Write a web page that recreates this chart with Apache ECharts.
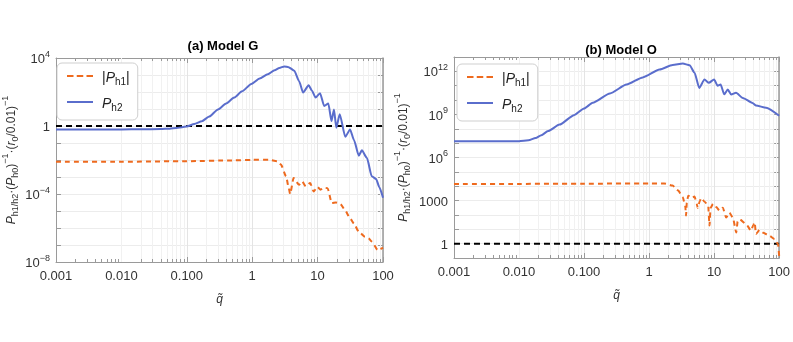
<!DOCTYPE html>
<html>
<head>
<meta charset="utf-8">
<script src="https://cdn.jsdelivr.net/npm/echarts@6/dist/echarts.min.js"></script>
<style>
html, body { margin: 0; padding: 0; background: #fff; }
#chart { width: 793px; height: 342px; }
</style>
</head>
<body>
<div id="chart"></div>
<script>
// Model G, P_h2 (blue)
var gH2 = [[0.001,0.63],[0.003,0.63],[0.01,0.63],[0.02,0.64],[0.04,0.66],[0.055,0.7],[0.07,0.76],[0.085,0.85],
  [0.1,0.95],[0.13,1.3],[0.17,1.9],[0.22,3.6],[0.3,9.5],[0.4,21],[0.53,47],[0.7,110],[0.97,300],[1.3,620],
  [1.73,1100],[2.2,1900],[2.6,2600],[3.1,3200],[3.6,2900],[4.4,1800],[5.2,450],
  [6.0,93],[7.3,250],[8.2,120],[9.3,47],[10.9,85],[12.6,15],[14.6,21],[16.3,1.95],[17.8,9.5],[19.3,0.8],
  [21.8,4.9],[26.5,0.23],[31.4,0.63],[36,0.15],[42.6,0.018],[47.5,0.037],[56.9,0.013],[67.3,0.0011],
  [78.5,0.00076],[88,0.00025],[100,0.00006]];
// Model G, |P_h1| (orange)
var gH1 = [[0.001,0.0078],[0.01,0.0079],[0.1,0.0085],[0.5,0.0095],[1,0.0102],[1.8,0.0102],[2.4,0.0085],
  [2.75,0.0054],[3.3,0.0011],[3.6,0.00025],[3.8,0.0001],[4.3,0.00087],[5.2,0.00035],[5.8,0.00055],
  [6.6,0.00028],[7.7,0.00044],[8.7,0.00014],[9.9,0.00026],[11.1,0.00018],[12.5,0.00024],[14.2,0.00022],
  [16.5,0.000029],[19,0.000032],[22.3,0.000026],[26,0.000012],[31.4,0.0000037],[36,0.0000018],
  [42.6,0.0000006],[52.8,0.00000031],[60,0.00000025],[67.3,0.00000016],[83,0.00000005],[100,0.00000007]];
// Model O, P_h2 (blue)
var oH2 = [[0.001,1.35e7],[0.005,1.35e7],[0.01,1.37e7],[0.014,1.6e7],[0.018,2.3e7],[0.022,3.6e7],[0.028,7e7],
  [0.042,1.95e8],[0.07,8.9e8],[0.1,2.6e9],[0.136,6.5e9],[0.25,2.9e10],[0.45,1.2e11],[0.8,3.8e11],[1.45,1.35e12],
  [2.3,2.8e12],[3.3,3.5e12],[4.2,2.7e12],[5.0,8e11],[5.9,7e10],[7.1,2.7e11],[8.3,1.6e11],[10,2.7e11],[11.3,1e11],
  [12.6,1.2e11],[14.3,2.5e10],[16.2,5.4e10],[18.3,2.4e10],[21.7,3.2e10],[27.6,1.4e10],[39,6.3e9],
  [44,4.2e9],[63,2.9e9],[100,8e8]];
// Model O, |P_h1| (orange)
var oH1 = [[0.001,14000],[0.01,14500],[0.1,15000],[1,15500],[1.7,15500],[2.3,11000],[2.8,5000],[3.3,1700],
  [3.6,400],[3.7,90],[3.8,700],[4.0,2200],[4.5,1500],[5.0,1900],[5.4,600],[5.6,300],[6.0,900],[6.3,1500],
  [7.2,800],[8.1,440],[8.5,18],[8.8,300],[9.6,580],[10.8,350],[12.1,200],[13.6,320],[15.3,65],[17.2,145],
  [19.4,65],[21.9,6],[23,35],[24.7,49],[31,23],[37,8],[40,20],[42,30],[44,4.7],[50,9],[56,6],[71,3.5],
  [85,2.1],[96,0.93],[100,0.14]];
// reference line at 1
var oneLine = [[0.001,1],[100,1]];
var titles = ['(a) Model G', '(b) Model O'];
var xTickLabels = {'-3':'0.001','-2':'0.010','-1':'0.100','0':'1','1':'10','2':'100'};
var decades = [0.001, 0.01, 0.1, 1, 10];
var minorSteps = [2, 3, 4, 5, 6, 7, 8, 9];

var orange = '#ee6a1e', blue = '#5a6dcc', frame = '#9a9a9a';
var font = 'Liberation Sans';

function exp10(v) { return Math.round(Math.log10(v)); }
function xLabel(v) { var s = xTickLabels[exp10(v)]; return s === undefined ? '' : s; }

function yLabelG(v) {
  var e = exp10(v);
  if (e % 4 !== 0) return '';
  if (e === 0) return '{n|1}';
  return '{n|10}{s|' + String(e).replace('-', '\u2212') + '}';
}
function yLabelO(v) {
  var e = exp10(v);
  if (e % 3 !== 0 || e < 0) return '';
  if (e === 0) return '{n|1}';
  if (e === 3) return '{n|1000}';
  return '{n|10}{s|' + e + '}';
}

var labRich = {
  n: { fontSize: 13, fontFamily: font, color: '#333', verticalAlign: 'bottom', lineHeight: 16 },
  s: { fontSize: 9, fontFamily: font, color: '#333', verticalAlign: 'top', lineHeight: 16 }
};
var nameRich = {
  i: { fontStyle: 'italic', fontSize: 12, fontFamily: font, color: '#333', lineHeight: 17, verticalAlign: 'bottom' },
  t: { fontSize: 12, fontFamily: font, color: '#333', lineHeight: 17, verticalAlign: 'bottom' },
  b: { fontSize: 9, fontFamily: font, color: '#333', lineHeight: 17, verticalAlign: 'bottom', padding: [0,0,-2,0] },
  p: { fontSize: 9, fontFamily: font, color: '#333', lineHeight: 17, verticalAlign: 'top' }
};
var yName = '{i|P}{b|h1/h2}{t|\u00b7(}{i|P}{b|h0}{t|)}{p|\u22121}{t|\u00b7(}{i|r}{b|0}{t|/0.01)}{p|\u22121}';

function mainX(gi) {
  return {
    type: 'log', gridIndex: gi, min: 0.001, max: 100, interval: 1,
    name: '{i|q\u0303}', nameLocation: 'middle', nameGap: 32,
    nameTextStyle: { rich: { i: { fontStyle: 'italic', fontSize: 12, fontFamily: font, color: '#333' } } },
    axisLine: { lineStyle: { color: frame } },
    axisTick: { inside: true, length: 5, lineStyle: { color: frame } },
    axisLabel: { formatter: xLabel, fontSize: 13, fontFamily: font, color: '#333', margin: 8, showMinLabel: true, showMaxLabel: true },
    splitLine: { show: true, lineStyle: { color: '#e4e4e4' } }
  };
}
function frameX(gi) {
  return {
    type: 'log', gridIndex: gi, min: 0.001, max: 100, interval: 1, position: 'top',
    axisLine: { lineStyle: { color: frame } },
    axisTick: { inside: true, length: 5, lineStyle: { color: frame } },
    axisLabel: { show: false }, splitLine: { show: false }
  };
}
function mainY(gi, mn, mx, fmt, gap) {
  return {
    type: 'log', gridIndex: gi, min: mn, max: mx, interval: 1,
    name: yName, nameLocation: 'middle', nameRotate: 90, nameGap: gap,
    nameTextStyle: { rich: nameRich },
    axisLine: { lineStyle: { color: frame } },
    axisTick: { inside: true, length: 5, lineStyle: { color: frame } },
    axisLabel: { formatter: fmt, rich: labRich, margin: 6, showMinLabel: true, showMaxLabel: true },
    splitLine: { show: true, lineStyle: { color: '#ececec' } }
  };
}
function frameY(gi, mn, mx) {
  return {
    type: 'log', gridIndex: gi, min: mn, max: mx, interval: 1, position: 'right',
    axisLine: { lineStyle: { color: frame, width: 1.5 } },
    axisTick: { inside: true, length: 5, lineStyle: { color: frame } },
    axisLabel: { show: false }, splitLine: { show: false }
  };
}

// minor x grid lines and ticks (2..9 in every decade) as mark lines on the log scale
function minorMarks(xi, yi, yMin, yMax, f) {
  var grid = [], ticks = [];
  decades.forEach(function(d) {
    minorSteps.forEach(function(m) {
      var x = d * m;
      grid.push({ xAxis: x, lineStyle: { color: '#f1f1f1', width: 1, type: 'solid' } });
      ticks.push([{ coord: [x, yMin] }, { coord: [x, yMin * f] }]);
      ticks.push([{ coord: [x, yMax / f] }, { coord: [x, yMax] }]);
    });
  });
  return {
    type: 'line', xAxisIndex: xi, yAxisIndex: yi, data: [], silent: true, z: 1,
    markLine: {
      silent: true, symbol: ['none', 'none'], animation: false, z: 1,
      label: { show: false },
      lineStyle: { color: frame, width: 1, type: 'solid' },
      data: grid.concat(ticks)
    }
  };
}

function curve(name, xi, yi, data, color, dashed) {
  return {
    name: name, type: 'line', xAxisIndex: xi, yAxisIndex: yi, data: data, z: 4,
    symbol: 'none', smooth: 0.2, smoothMonotone: 'x',
    lineStyle: { color: color, width: 2, type: dashed ? [5, 4] : 'solid' },
    itemStyle: { color: color }
  };
}
function refLine(xi, yi) {
  return {
    name: 'one', type: 'line', xAxisIndex: xi, yAxisIndex: yi, data: oneLine, z: 3,
    symbol: 'none', silent: true, lineStyle: { color: '#000', width: 2, type: [6, 4] }
  };
}
function legendAt(left, top) {
  return {
    data: [
      { name: 'h1', icon: 'path://M0,0h6v2h-6z M9,0h6v2h-6z M18,0h6v2h-6z' },
      { name: 'h2', icon: 'path://M0,0h24v2h-24z' }
    ],
    orient: 'vertical', left: left, top: top, symbolKeepAspect: false, z: 10,
    itemWidth: 26, itemHeight: 2, itemGap: 10, padding: [8, 8, 7, 10],
    borderColor: '#cfcfcf', borderWidth: 1, borderRadius: 5, backgroundColor: '#fff',
    formatter: function(n) {
      return n === 'h1' ? '{t||}{i|P}{b|h1}{t||}' : '{i|P}{b|h2}';
    },
    textStyle: { padding: [0, 0, 0, 4], rich: {
      i: { fontStyle: 'italic', fontSize: 14, fontFamily: font, color: '#222', lineHeight: 18, verticalAlign: 'bottom' },
      t: { fontSize: 14, fontFamily: font, color: '#222', lineHeight: 18, verticalAlign: 'bottom' },
      b: { fontSize: 10, fontFamily: font, color: '#222', lineHeight: 18, verticalAlign: 'bottom', padding: [0,0,-2,0] }
    } }
  };
}

var chart = echarts.init(document.getElementById('chart'), null, { renderer: 'canvas' });
chart.setOption({
  animation: false,
  backgroundColor: '#fff',
  title: [
    { text: titles[0], left: 218, top: 35, textAlign: 'center', textStyle: { fontSize: 13, fontWeight: 'bold', fontFamily: font, color: '#000' } },
    { text: titles[1], left: 616, top: 39, textAlign: 'center', textStyle: { fontSize: 13, fontWeight: 'bold', fontFamily: font, color: '#000' } }
  ],
  legend: [legendAt(57, 63), legendAt(457, 64)],
  grid: [
    { left: 53, top: 58, width: 330, height: 204 },
    { left: 454, top: 57, width: 326, height: 201 }
  ],
  xAxis: [mainX(0), frameX(0), mainX(1), frameX(1)],
  yAxis: [
    mainY(0, 1e-8, 1e4, yLabelG, 38),
    frameY(0, 1e-8, 1e4),
    mainY(1, 0.1, 1e13, yLabelO, 44),
    frameY(1, 0.1, 1e13)
  ],
  series: [
    minorMarks(0, 0, 1e-8, 1e4, 1.5),
    refLine(0, 0),
    curve('h1', 0, 0, gH1, orange, true),
    curve('h2', 0, 0, gH2, blue, false),
    minorMarks(2, 2, 0.1, 1e13, 1.62),
    refLine(2, 2),
    curve('h1', 2, 2, oH1, orange, true),
    curve('h2', 2, 2, oH2, blue, false)
  ]
});
</script>
</body>
</html>
